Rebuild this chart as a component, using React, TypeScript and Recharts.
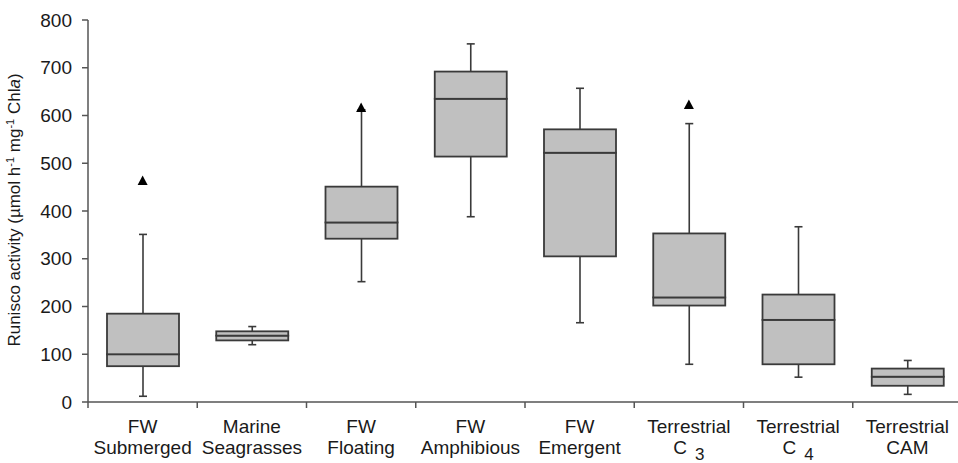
import React from "react";
import { ComposedChart, Bar, Scatter, XAxis, YAxis } from "recharts";

const topLabels = ["FW", "Marine", "FW", "FW", "FW", "Terrestrial", "Terrestrial", "Terrestrial"];
const bottomLabels = ["Submerged", "Seagrasses", "Floating", "Amphibious", "Emergent", "C", "C", "CAM"];
const subscripts = ["", "", "", "", "", "3", "4", ""];

const mins = [12, 120, 252, 388, 166, 79, 52, 16];
const q1s = [75, 129, 342, 514, 305, 202, 79, 34];
const medians = [100, 139, 376, 635, 522, 219, 172, 53];
const q3s = [185, 148, 451, 692, 571, 353, 225, 70];
const maxs = [351, 158, 612, 750, 657, 583, 367, 87];
const outliers = [464, null, 617, null, null, 623, null, null];

const yTicks = [0, 100, 200, 300, 400, 500, 600, 700, 800];

const data = topLabels.map((t, i) => ({
  name: `${t} ${bottomLabels[i]}${subscripts[i]}`,
  base: mins[i],
  lowWhisker: q1s[i] - mins[i],
  lowBox: medians[i] - q1s[i],
  highBox: q3s[i] - medians[i],
  highWhisker: maxs[i] - q3s[i],
  outlier: outliers[i],
}));

const FONT = "'Liberation Sans', Arial, sans-serif";
const INK = "#1a1a1a";
const EDGE = "#3a3a3a";

const LowWhisker = (p: any) => {
  const cx = p.x + p.width / 2;
  const yb = p.y + p.height;
  return (
    <g stroke={EDGE} strokeWidth={1.6}>
      <line x1={cx} x2={cx} y1={p.y} y2={yb} />
      <line x1={cx - 4} x2={cx + 4} y1={yb} y2={yb} />
    </g>
  );
};

const HighWhisker = (p: any) => {
  const cx = p.x + p.width / 2;
  return (
    <g stroke={EDGE} strokeWidth={1.6}>
      <line x1={cx} x2={cx} y1={p.y} y2={p.y + p.height} />
      <line x1={cx - 4} x2={cx + 4} y1={p.y} y2={p.y} />
    </g>
  );
};

const BoxPart = (p: any) => (
  <rect x={p.x} y={p.y} width={p.width} height={p.height} fill="#c0c0c0" stroke={EDGE} strokeWidth={1.8} />
);

const Triangle = (p: any) => {
  if (p.payload == null || p.payload.outlier == null) return null;
  const { cx, cy } = p;
  return <polygon points={`${cx},${cy - 5} ${cx + 5},${cy + 4.5} ${cx - 5},${cy + 4.5}`} fill="#000" />;
};

const XTick = (props: any) => {
  const { x, y, index, width, visibleTicksCount } = props;
  const band = width && visibleTicksCount ? width / visibleTicksCount : 0;
  const sub = subscripts[index];
  return (
    <g>
      {band > 0 && (
        <line x1={x - band / 2} x2={x - band / 2} y1={y} y2={y + 6} stroke="#555" strokeWidth={1.5} />
      )}
      <text x={x} y={y + 31} textAnchor="middle" fontFamily={FONT} fontSize={19} fill={INK}>
        {topLabels[index]}
      </text>
      <text x={x} y={y + 52} textAnchor="middle" fontFamily={FONT} fontSize={19} fill={INK}>
        <tspan>{bottomLabels[index]}</tspan>
        {sub && (
          <tspan dx={8} dy={6} fontSize={17}>
            {sub}
          </tspan>
        )}
      </text>
    </g>
  );
};

const YLabel = () => (
  <text
    transform="translate(20,210) rotate(-90)"
    textAnchor="middle"
    fontFamily={FONT}
    fontSize={17}
    fill={INK}
  >
    <tspan>Runisco activity (µmol h</tspan>
    <tspan dy={-6} fontSize={11}>-1</tspan>
    <tspan dy={6}> mg</tspan>
    <tspan dy={-6} fontSize={11}>-1</tspan>
    <tspan dy={6}> Chl</tspan>
    <tspan fontStyle="italic">a</tspan>
    <tspan>)</tspan>
  </text>
);

export default function App() {
  return (
    <div style={{ position: "absolute", left: 0, top: 0, background: "#fff" }}>
      <ComposedChart
        width={958}
        height={463}
        data={data}
        margin={{ top: 20, right: -4, left: 0, bottom: 0 }}
      >
        <XAxis
          dataKey="name"
          height={61}
          interval={0}
          tickLine={false}
          tickSize={0}
          tickMargin={0}
          axisLine={{ stroke: "#555", strokeWidth: 1.5 }}
          tick={<XTick />}
        />
        <YAxis
          width={88}
          domain={[0, 800]}
          ticks={yTicks}
          interval={0}
          tickSize={6}
          tickMargin={10}
          axisLine={{ stroke: "#555", strokeWidth: 1.5 }}
          tickLine={{ stroke: "#555", strokeWidth: 1.5 }}
          tick={{ fontFamily: FONT, fontSize: 19, fill: INK }}
          label={<YLabel />}
        />
        <Bar dataKey="base" stackId="b" barSize={72} fill="none" shape={() => null} isAnimationActive={false} />
        <Bar dataKey="lowWhisker" stackId="b" barSize={72} shape={LowWhisker} isAnimationActive={false} />
        <Bar dataKey="lowBox" stackId="b" barSize={72} shape={BoxPart} isAnimationActive={false} />
        <Bar dataKey="highBox" stackId="b" barSize={72} shape={BoxPart} isAnimationActive={false} />
        <Bar dataKey="highWhisker" stackId="b" barSize={72} shape={HighWhisker} isAnimationActive={false} />
        <Scatter dataKey="outlier" shape={Triangle} isAnimationActive={false} />
      </ComposedChart>
    </div>
  );
}
